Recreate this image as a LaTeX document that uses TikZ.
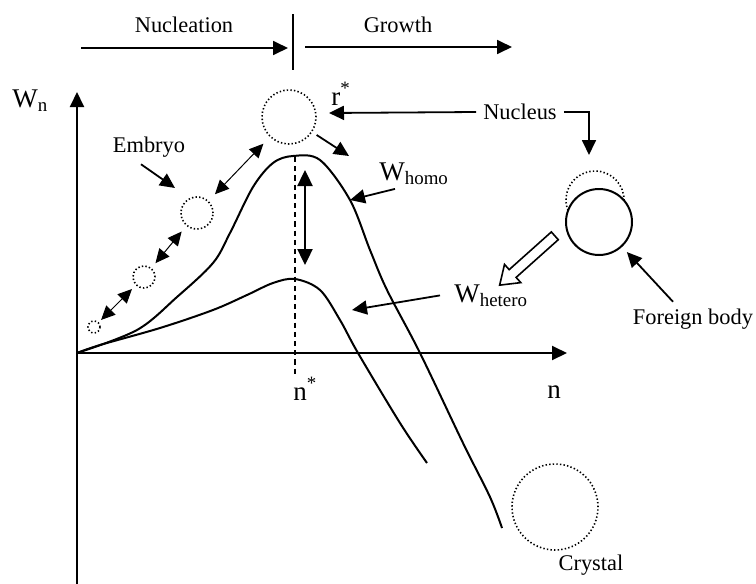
\documentclass[tikz,border=0pt]{standalone}
\usepackage{fontspec}
\setmainfont{Liberation Serif}
\usetikzlibrary{arrows.meta,positioning,shapes.arrows}

\begin{document}
\begin{tikzpicture}[x=0.5pt,y=-0.5pt,
  every node/.style={font=\fontsize{11.2}{13}\selectfont},
  biglabel/.style={font=\fontsize{13.5}{16}\selectfont,inner sep=1pt},
  bubble/.style={circle,draw,dash pattern=on 0.7pt off 1.1pt,line width=0.8pt,inner sep=0pt,outer sep=0pt},
  pointer/.style={-{Triangle[length=7.5pt,width=7pt]},line width=0.9pt},
  linkarrow/.style={{Triangle[length=7pt,width=6.5pt]}-{Triangle[length=7pt,width=6.5pt]},line width=0.5pt}]
  \useasboundingbox (0,0) rectangle (756,584);
  % stages
  \node (nucl) at (184,25) {Nucleation};
  \node (grow) at (398,25) {Growth};
  \coordinate (nuclL) at (81,48);   \coordinate (nuclR) at (288,48);
  \coordinate (growL) at (305,47);  \coordinate (growR) at (512,47);
  \coordinate (sepT) at (293,14);   \coordinate (sepB) at (293,70);
  \draw[pointer] (nuclL) -- (nuclR);
  \draw[pointer] (growL) -- (growR);
  \draw[line width=0.9pt] (sepT) -- (sepB);
  % axes
  \coordinate (origin) at (77,353);
  \coordinate (ytop) at (77,92);
  \coordinate (ybot) at (77,584);
  \coordinate (xend) at (567,353);
  \draw[pointer,line width=1pt] (ybot) -- (ytop);
  \draw[pointer,line width=1pt] (origin) -- (xend);
  \node[biglabel,anchor=base west] (wn) at (10,107) {W\textsubscript{n}};
  \node[biglabel,anchor=base west] (nlab) at (545,398) {n};
  \node[biglabel,anchor=base west] (nstar) at (291,400) {n\textsuperscript{*}};
  % free energy curves
  \draw[line width=1pt] plot[smooth,tension=0.55] coordinates {(77,353) (137,330) (177,297) (213,263) (230,233) (253,187) (273,163) (293,156) (320,160) (350,200) (370,250) (387,290) (420,353) (463,443) (490,497) (502,528)};
  \draw[line width=1pt] plot[smooth,tension=0.55] coordinates {(77,353) (100,345) (160,328) (213,310) (247,295) (273,283) (295,279) (320,290) (340,320) (358,353) (400,423) (427,463)};
  \coordinate (critT) at (295,157); \coordinate (critB) at (295,377);
  \draw[dash pattern=on 2.6pt off 2pt,line width=1pt] (critT) -- (critB);
  \coordinate (gapT) at (305,170); \coordinate (gapB) at (305,265);
  \draw[{Triangle[length=8pt,width=7.5pt]}-{Triangle[length=8pt,width=7.5pt]},line width=1.2pt] (gapT) -- (gapB);
  % embryos and nucleus
  \node[bubble,minimum size=6pt] (e1) at (94,327) {};
  \node[bubble,minimum size=11pt] (e2) at (144,277) {};
  \node[bubble,minimum size=16pt] (e3) at (197,213) {};
  \node[bubble,minimum size=27pt] (rstar) at (289,117) {};
  \draw[linkarrow,shorten <=2pt,shorten >=3pt] (e1) -- (e2);
  \draw[linkarrow,shorten <=3.5pt,shorten >=4pt] (e2) -- (e3);
  \draw[linkarrow,shorten <=5pt,shorten >=5pt] (e3) -- (rstar);
  \node[biglabel,anchor=base west] (rlab) at (329,105) {r\textsuperscript{*}};
  \coordinate (homoTop) at (349,156);
  \draw[pointer,shorten <=3pt] (rstar) -- (homoTop);
  \node (embryo) at (149,147) {Embryo};
  \coordinate (embryoTip) at (175,188);
  \draw[pointer] ([xshift=-4pt]embryo.south) -- (embryoTip);
  \node (nucleus) at (520,112) {Nucleus};
  \coordinate (rTip) at (329,113);
  \coordinate (nucDown) at (589,155);
  \draw[pointer] (nucleus.west) -- (rTip);
  \draw[pointer] (nucleus.east) -| (nucDown);
  % curve labels
  \node[biglabel,anchor=base west] (whomo) at (377,180) {W\textsubscript{homo}};
  \node[biglabel,anchor=base west] (whetero) at (452,302) {W\textsubscript{hetero}};
  \coordinate (homoHit) at (350,200);
  \coordinate (heteroHit) at (352,310);
  \draw[pointer] ([xshift=9pt,yshift=-1pt]whomo.south west) -- (homoHit);
  \draw[pointer] ([xshift=-6pt]whetero.west) -- (heteroHit);
  % foreign body
  \node[circle,draw,line width=1pt,minimum size=33pt,inner sep=0pt,outer sep=0pt] (fb) at (599,222) {};
  \draw[dash pattern=on 0.7pt off 1.1pt,line width=0.8pt] (595,200) ++(1:29) arc[start angle=1,end angle=-201,radius=29];
  \node (fbody) at (693,319) {Foreign body};
  \draw[pointer,shorten >=4pt] ([xshift=-10pt]fbody.north) -- (fb);
  \node[single arrow,draw,line width=0.8pt,minimum height=37pt,inner sep=2.2pt,single arrow head extend=3.5pt,single arrow tip angle=70,rotate=221.8] (hollow) at (530,258) {};
  % crystal
  \node[bubble,minimum size=43pt] (crystalball) at (555,507) {};
  \node (crystal) at (591,565) {Crystal};
\end{tikzpicture}
\end{document}
